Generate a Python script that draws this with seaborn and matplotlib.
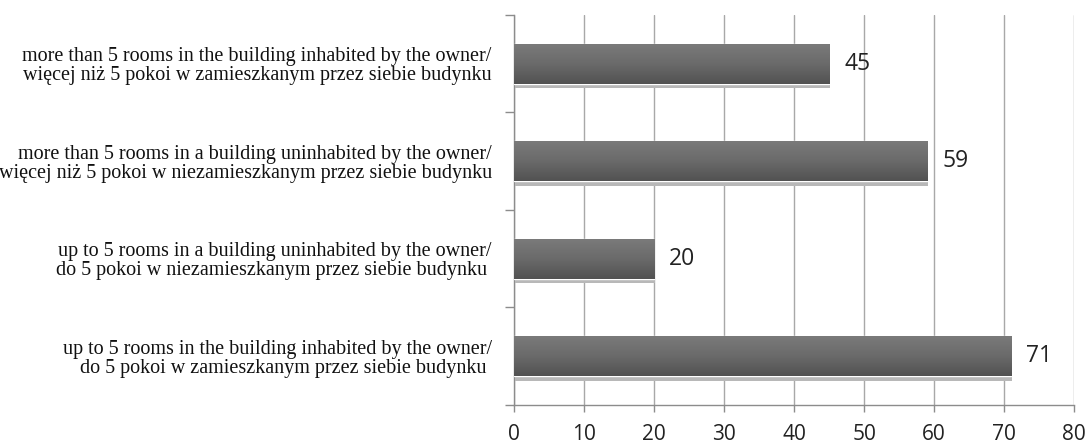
import numpy as np
import pandas as pd
import matplotlib
matplotlib.use("Agg")
import matplotlib.pyplot as plt
import matplotlib.patheffects as pe
from matplotlib.colors import LinearSegmentedColormap
import seaborn as sns

categories = [
    "more than 5 rooms in the building inhabited by the owner/\nwięcej niż 5 pokoi w zamieszkanym przez siebie budynku",
    "more than 5 rooms in a building uninhabited by the owner/\nwięcej niż 5 pokoi w niezamieszkanym przez siebie budynku",
    "up to 5 rooms in a building uninhabited by the owner/\ndo 5 pokoi w niezamieszkanym przez siebie budynku ",
    "up to 5 rooms in the building inhabited by the owner/\ndo 5 pokoi w zamieszkanym przez siebie budynku ",
]
values = [45, 59, 20, 71]
x_ticks = list(range(0, 81, 10))

sns.set_style("white")
plt.rcParams["font.family"] = ["Open Sans", "DejaVu Sans"]

df = pd.DataFrame({"category": categories, "value": values})

fig = plt.figure(figsize=(10.9, 4.45), dpi=100)
ax = fig.add_axes([0.4716, 0.0899, 0.5138, 0.8764])

sns.barplot(data=df, y="category", x="value", orient="h", color="#626262",
            width=0.41, ax=ax, zorder=3)

# gradient fill + drop shadow on each bar
grad_cmap = LinearSegmentedColormap.from_list("bar", ["#7a7a7a", "#6a6a6a", "#525252"])
grad = np.linspace(0, 1, 100).reshape(-1, 1)
for patch in ax.patches:
    patch.set_path_effects([
        pe.SimplePatchShadow(offset=(0.7, -3.2), shadow_rgbFace="#b8b8b8", alpha=1),
        pe.Normal(),
    ])
    x0, y0 = patch.get_x(), patch.get_y()
    w, h = patch.get_width(), patch.get_height()
    im = ax.imshow(grad, cmap=grad_cmap, aspect="auto", origin="lower",
                   extent=(x0, x0 + w, y0, y0 + h), zorder=4)
    im.set_clip_path(patch)

ax.bar_label(ax.containers[0], padding=11, fontsize=16.5, color="#222222", zorder=5)

ax.set_xlim(0, 80)
ax.set_ylim(len(categories) - 0.5, -0.5)
ax.set_xticks(x_ticks)
ax.set_xticklabels([str(t) for t in x_ticks], fontsize=15, color="#222222")

# boundaries as major ticks, labels on minor ticks at bar centres
centers = np.arange(len(categories))
ax.set_yticks(np.arange(len(categories) + 1) - 0.5)
ax.set_yticklabels([])
ax.set_yticks(centers, minor=True)
ax.set_yticklabels(categories, minor=True, fontsize=14.5, family="Liberation Serif",
                   color="#111111")
ax.tick_params(axis="y", which="major", length=6.5, color="#8c8c8c", width=1, left=True)
ax.tick_params(axis="y", which="minor", length=0, pad=16)
ax.tick_params(axis="x", length=5, color="#8c8c8c", width=1, bottom=True, pad=9)
for lbl in ax.get_yticklabels(minor=True):
    lbl.set_multialignment("right")
    lbl.set_linespacing(1.0)

ax.grid(axis="x", color="#a8a8a8", linewidth=1, zorder=0)
ax.grid(axis="y", visible=False)
ax.set_axisbelow(True)
sns.despine(ax=ax, top=True, right=True)
for side in ["left", "bottom"]:
    ax.spines[side].set_color("#8c8c8c")
    ax.spines[side].set_linewidth(1)
ax.set_xlabel("")
ax.set_ylabel("")

fig.savefig("out.png", dpi=100)
